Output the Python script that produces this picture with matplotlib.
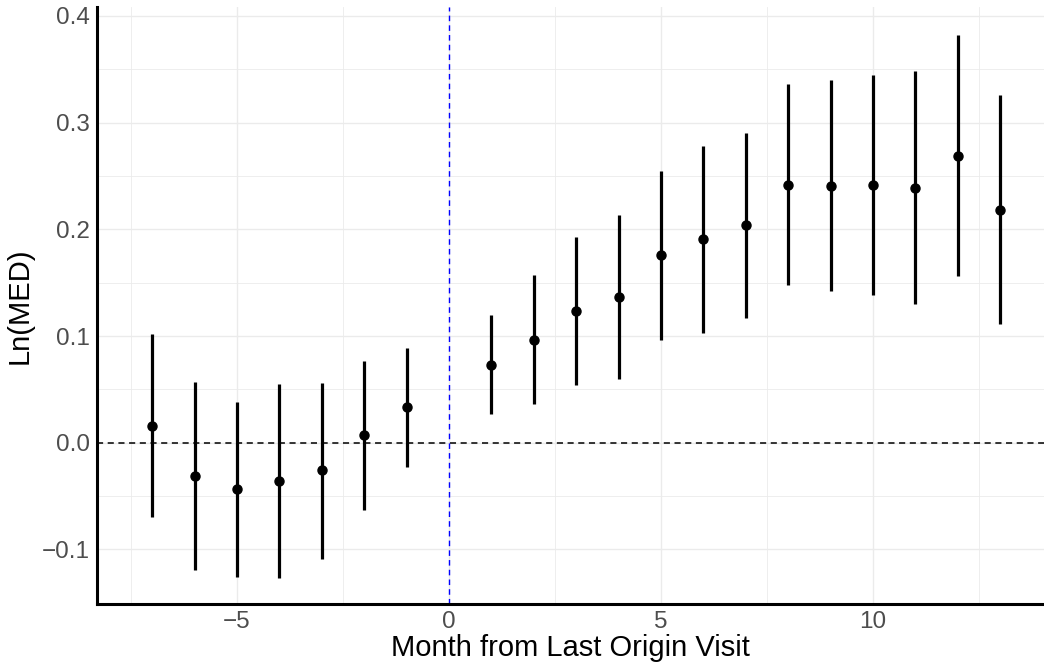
import matplotlib
matplotlib.use("Agg")
import matplotlib.pyplot as plt
import numpy as np

# event-study estimates
month = [-7, -6, -5, -4, -3, -2, -1, 1, 2, 3, 4, 5, 6, 7, 8, 9, 10, 11, 12, 13]
coef = [0.016, -0.031, -0.043, -0.036, -0.026, 0.007, 0.033,
        0.073, 0.096, 0.123, 0.137, 0.176, 0.191, 0.204,
        0.242, 0.241, 0.242, 0.239, 0.269, 0.218]
lower = [-0.070, -0.119, -0.126, -0.127, -0.109, -0.063, -0.023,
         0.027, 0.036, 0.054, 0.060, 0.096, 0.103, 0.117,
         0.148, 0.142, 0.138, 0.130, 0.156, 0.111]
upper = [0.102, 0.057, 0.038, 0.055, 0.056, 0.077, 0.089,
         0.120, 0.157, 0.193, 0.213, 0.255, 0.278, 0.290,
         0.336, 0.340, 0.345, 0.348, 0.382, 0.326]

plt.rcParams['font.family'] = ['Liberation Sans', 'DejaVu Sans']

fig = plt.figure(figsize=(10.44, 6.68), dpi=100)
ax = fig.add_axes([97/1044, 64/668, 1 - 97/1044, (604 - 6.7)/668])

#grid like ggplot
ax.set_xticks([-5, 0, 5, 10])
ax.set_xticks([-7.5, -2.5, 2.5, 7.5, 12.5], minor=True)
ax.set_yticks([-0.1, 0.0, 0.1, 0.2, 0.3, 0.4])
ax.set_yticks([-0.15, -0.05, 0.05, 0.15, 0.25, 0.35], minor=True)
ax.set_yticklabels(['\u22120.1', '0.0', '0.1', '0.2', '0.3', '0.4'])
ax.set_xticklabels(['\u22125', '0', '5', '10'])
ax.grid(which='major', color='#EBEBEB', lw=1.0)
ax.grid(which='minor', color='#EBEBEB', lw=0.6)
ax.set_axisbelow(True)
ax.tick_params(which='both', length=0, labelsize=17.5, labelcolor='#4D4D4D')
ax.tick_params(axis='y', pad=5)
ax.tick_params(axis='x', pad=5)

ax.axhline(0, color='black', ls=(0, (4, 3)), lw=1.1)
ax.axvline(0, color='blue', ls=(0, (4, 3)), lw=1.0)

m = np.array(month)
c = np.array(coef)
ax.vlines(m, lower, upper, color='black', lw=2.3)
ax.plot(m, c, 'o', color='black', ms=6.5)

ax.set_xlim(-8.3, 14.03)
ax.set_ylim(-0.1512, 0.4087)

for s in ['top', 'right']:
    ax.spines[s].set_visible(False)
for s in ['left', 'bottom']:
    ax.spines[s].set_linewidth(2.2)
    ax.spines[s].set_color('black')

ax.set_xlabel('Month from Last Origin Visit', fontsize=21, labelpad=1)
ax.set_ylabel('Ln(MED)', fontsize=21, labelpad=6)

plt.savefig('out.png', dpi=100)
